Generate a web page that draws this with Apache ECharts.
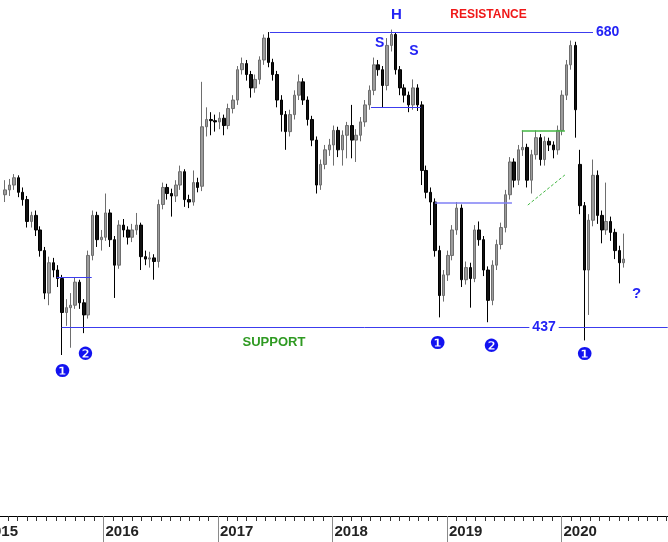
<!DOCTYPE html>
<html>
<head>
<meta charset="utf-8">
<script src="https://cdn.jsdelivr.net/npm/echarts@6/dist/echarts.min.js"></script>
<style>
    html, body { margin: 0; padding: 0; background: #fff; }
    #chart { width: 668px; height: 542px; }
</style>
</head>
<body>
<div id="chart"></div>
<script>
// bi-weekly candles, first one on 2015-02-20
const startDate = '2015-02-20';
const stepDays = 14;

const open = [546,550,554,560,548,542,524,529,517,500,465,490,484,477,449,453,455,474,457,447,
    496,529,509,511,531,509,488,521,517,511,517,521,495,493,494,491,538,552,547,545,
    554,565,542,540,556,553,602,608,607,606,609,603,617,624,649,654,645,634,641,657,
    675,655,645,624,612,598,612,628,639,624,608,591,554,571,583,587,599,583,595,603,
    591,595,606,620,632,653,649,636,669,678,649,634,628,620,634,620,566,548,540,500,
    463,480,496,517,535,476,486,477,517,509,484,459,488,505,519,546,573,558,583,585,
    558,579,593,575,590,587,583,599,628,653,669,571,537,484,525,562,529,517,524,515,
    500,490];
const close = [550,554,560,548,542,524,529,517,500,465,490,484,477,449,453,455,474,457,447,496,
    529,509,511,531,509,488,521,517,511,517,521,495,493,494,491,538,552,547,545,554,
    565,542,540,556,552,602,608,607,606,609,603,617,624,649,654,645,634,641,657,675,
    655,645,624,612,598,612,628,639,624,608,591,554,571,583,587,599,583,595,603,591,
    595,606,620,632,653,649,636,669,678,649,634,628,620,634,620,566,548,540,500,463,
    480,496,517,535,476,486,477,517,509,484,459,488,505,519,546,573,558,583,585,558,
    579,593,575,590,587,583,599,628,653,669,616,537,484,525,562,529,517,524,515,500,
    490,493];
const high = [558,559,563,562,552,545,532,533,520,503,495,494,488,480,460,465,478,476,460,500,
    533,532,517,547,534,512,525,526,520,522,531,523,500,499,497,542,556,555,551,558,
    570,567,546,566,560,639,618,614,612,614,612,621,628,652,659,657,648,645,660,678,
    680,658,648,628,615,616,632,645,642,627,611,594,575,587,592,603,602,599,606,620,
    600,610,624,636,659,657,652,675,682,680,652,637,631,641,637,623,570,552,543,504,
    484,500,521,540,538,491,490,521,524,512,487,492,509,523,550,577,576,587,599,588,
    583,599,596,594,593,590,603,632,657,673,672,583,540,530,575,566,533,556,528,518,
    504,514];
const low = [540,545,550,544,537,519,519,512,495,460,455,478,470,414,438,420,452,452,432,444,
    492,503,500,508,503,461,485,511,505,507,513,484,488,486,476,486,534,542,528,540,
    550,536,535,537,548,549,594,595,598,600,595,600,613,620,645,640,626,630,637,653,
    651,640,618,598,583,594,608,624,620,603,586,547,550,567,578,570,577,570,576,576,
    573,590,602,616,628,644,618,632,664,645,628,622,614,616,615,554,543,521,495,445,
    458,475,492,513,470,472,453,474,504,479,441,455,484,501,515,542,552,554,578,552,
    547,575,570,570,582,576,579,595,624,649,593,530,426,447,520,522,506,513,508,493,
    473,486];

// horizontal levels
const resistance = 680;
const support = 437;
const neckline = 618;
const level2015 = 478;
const level2019 = 539;
const greenTop = 599;

// circled wave counts
const countDates = ['2015-08-23', '2015-11-05', '2018-12-02', '2019-05-22', '2020-03-15'];
const countValues = [400, 414, 423, 420, 414];
const countText = ['❶', '❷', '❶', '❷', '❶'];

// months since Jan 2015, fractional
function toMonth(d) {
    const dt = typeof d === 'string' ? new Date(d + 'T00:00:00Z') : d;
    const y = dt.getUTCFullYear(), mo = dt.getUTCMonth(), day = dt.getUTCDate();
    const dim = new Date(Date.UTC(y, mo + 1, 0)).getUTCDate();
    return (y - 2015) * 12 + mo + (day - 1) / dim;
}

const t0 = new Date(startDate + 'T00:00:00Z').getTime();
const candles = open.map((o, i) => {
    const m = toMonth(new Date(t0 + i * stepDays * 86400000));
    return [m, o, close[i], low[i], high[i]];
});

const blue = '#2323f5';
const lineBlue = '#3c3cee';
const bold = { fontWeight: 'bold', fontFamily: 'Liberation Sans' };

function txt(date, value, text, color, size, extra) {
    return {
        coord: [toMonth(date), value],
        symbol: 'rect',
        symbolSize: 1,
        itemStyle: { color: 'rgba(0,0,0,0)' },
        label: Object.assign({
            show: true,
            position: 'inside',
            formatter: text,
            color: color,
            fontSize: size,
            fontWeight: 'bold',
            fontFamily: 'Liberation Sans'
        }, extra || {})
    };
}

function seg(d1, v1, d2, v2, style, label) {
    return [
        { coord: [toMonth(d1), v1], lineStyle: style, label: label || { show: false } },
        { coord: [toMonth(d2), v2] }
    ];
}

// axis window: early Feb 2015 to Dec 2020
const xMin = 1.153;
const xMax = 71.16;
const monthTicks = [];
for (let k = 2; k <= 71; k++) monthTicks.push(k);
const yearTicks = [12, 24, 36, 48, 60];
const yearLabelStyle = {
    color: '#222',
    fontSize: 15,
    fontWeight: 'bold',
    fontFamily: 'Liberation Sans'
};

const chart = echarts.init(document.getElementById('chart'));
chart.setOption({
    animation: false,
    backgroundColor: '#fff',
    grid: { left: 0, right: 0, top: 0, bottom: 26 },
    xAxis: [
        {
            type: 'value',
            min: xMin,
            max: xMax,
            position: 'bottom',
            axisLine: { show: true, lineStyle: { color: '#000', width: 1 } },
            axisTick: { show: true, length: 5, customValues: monthTicks, lineStyle: { color: '#333' } },
            axisLabel: { show: false },
            splitLine: { show: false }
        },
        {
            type: 'value',
            min: xMin,
            max: xMax,
            position: 'bottom',
            axisLine: { show: false },
            axisTick: { show: true, length: 26, customValues: yearTicks, lineStyle: { color: '#8a8a8a' } },
            axisLabel: Object.assign({
                customValues: yearTicks,
                formatter: v => String(2015 + v / 12),
                align: 'left',
                padding: [0, 0, 0, 2],
                margin: 8
            }, yearLabelStyle),
            splitLine: { show: false }
        }
    ],
    yAxis: {
        type: 'value',
        min: 281.4,
        max: 706.4,
        show: false
    },
    graphic: [
        {
            // 2015 label, cut by the left edge
            type: 'text',
            x: 18,
            y: 524,
            style: {
                text: '2015',
                fill: yearLabelStyle.color,
                font: 'bold 15px "Liberation Sans"',
                align: 'right',
                verticalAlign: 'top'
            }
        }
    ],
    series: [
        {
            type: 'candlestick',
            data: candles,
            encode: { x: 0, y: [1, 2, 3, 4] },
            barWidth: 3,
            itemStyle: {
                color: '#9c9c9c',
                color0: '#111',
                borderColor: '#6e6e6e',
                borderColor0: '#000',
                borderWidth: 1
            },
            markLine: {
                symbol: 'none',
                silent: true,
                animation: false,
                data: [
                    seg('2017-06-14', resistance, '2020-04-10', resistance, { color: lineBlue, width: 1, type: 'solid' },
                        Object.assign({ show: true, position: 'end', distance: 3, formatter: String(resistance), color: blue, fontSize: 14 }, bold)),
                    seg('2015-08-20', support, '2020-12-05', support, { color: lineBlue, width: 1, type: 'solid' }),
                    seg('2018-05-02', neckline, '2018-10-09', neckline, { color: lineBlue, width: 1, type: 'solid' }),
                    seg('2015-08-04', level2015, '2015-11-24', level2015, { color: lineBlue, width: 1, type: 'solid' }),
                    seg('2018-11-23', level2019, '2019-07-26', level2019, { color: '#7f7ff5', width: 1.5, type: 'solid' }),
                    seg('2019-08-27', greenTop, '2020-01-12', greenTop, { color: '#45b845', width: 1.5, type: 'solid' }),
                    seg('2019-09-15', 537.5, '2020-01-12', 562.3, { color: '#45b845', width: 1, type: [3, 2] })
                ]
            },
            markPoint: {
                silent: true,
                animation: false,
                data: [
                    txt('2018-07-23', 694, 'H', blue, 15),
                    txt('2019-05-12', 694, 'RESISTANCE', '#f01818', 12),
                    txt('2018-05-30', 671, 'S', blue, 14),
                    txt('2018-09-17', 664.4, 'S', blue, 14),
                    txt('2017-06-27', 424, 'SUPPORT', '#2f9a22', 13),
                    txt('2019-11-06', support, String(support), blue, 14, { backgroundColor: '#fff', padding: [0, 3] }),
                    txt('2020-08-28', 464, '?', blue, 15)
                ].concat(countDates.map((d, i) =>
                    txt(d, countValues[i], countText[i], '#1212f0', 18, { fontFamily: 'DejaVu Sans', fontWeight: 'normal' })))
            }
        }
    ]
});
</script>
</body>
</html>
